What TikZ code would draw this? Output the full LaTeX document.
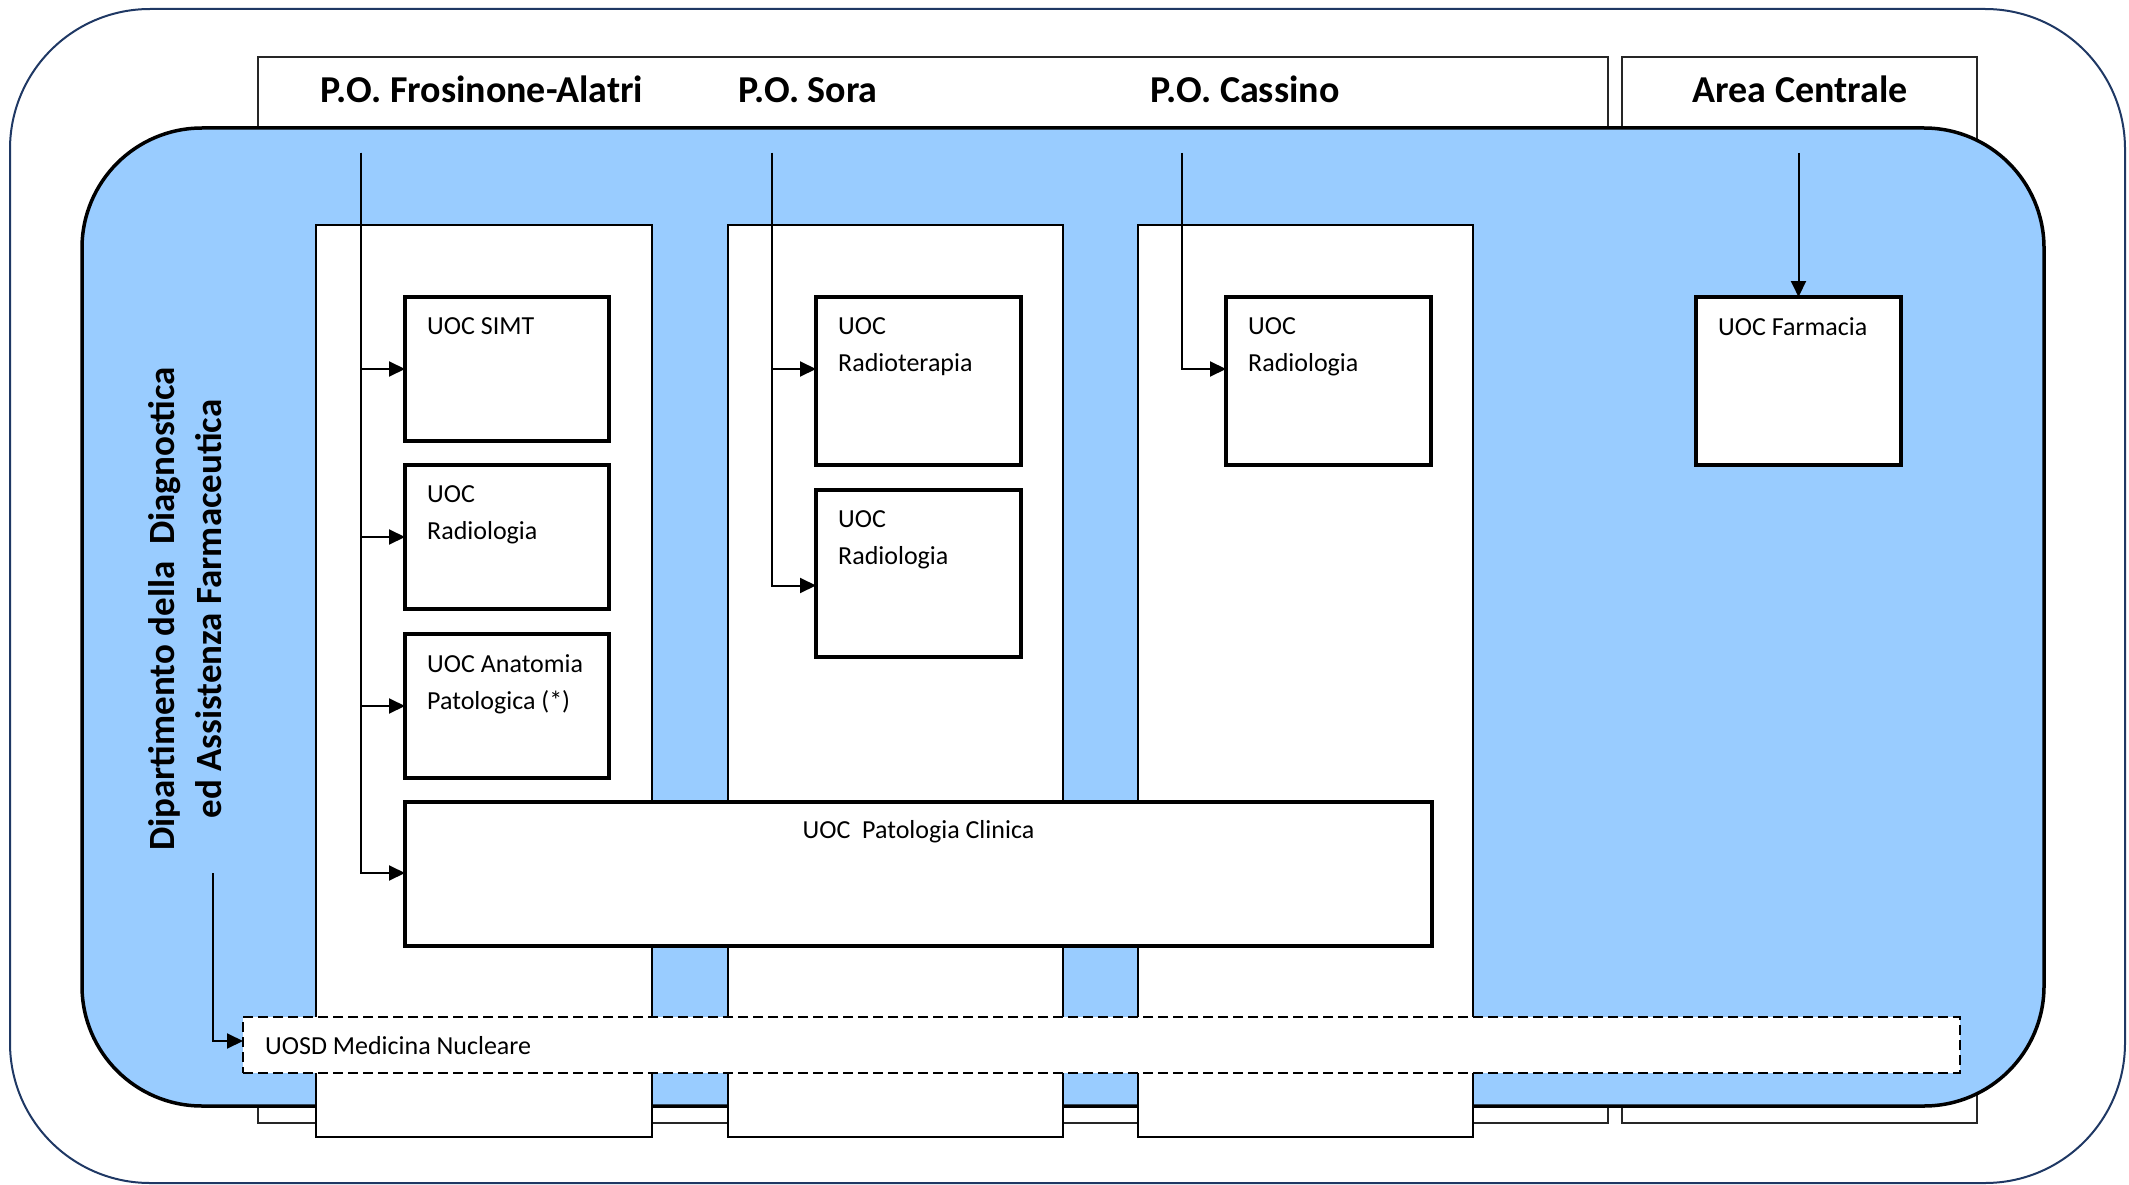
\documentclass[tikz,border=0pt]{standalone}
\usepackage{fontspec}
\setmainfont{Carlito}
\usetikzlibrary{arrows.meta,calc}
\definecolor{navy}{RGB}{31,56,100}
\definecolor{deptblue}{RGB}{153,204,255}
\begin{document}
\begin{tikzpicture}[x=1pt,y=-1pt,
  hdrbox/.style={draw=black!85,line width=1.5pt,fill=white,inner sep=0pt,outer sep=0pt,anchor=north west},
  colbox/.style={draw=black,line width=1.5pt,fill=white,inner sep=0pt,outer sep=0pt,anchor=north west},
  unitbox/.style={draw=black,line width=3.3pt,fill=white,inner sep=0pt,outer sep=0pt,anchor=north west},
  dashbox/.style={draw=black,line width=2.8pt,dash pattern=on 10pt off 5pt,fill=white,inner sep=0pt,outer sep=0pt,anchor=north west},
  hdrtxt/.style={font=\fontsize{38}{46}\selectfont\bfseries,anchor=base,inner sep=0pt},
  unittxt/.style={font=\fontsize{26}{37}\selectfont,align=left,anchor=north west,inner sep=0pt},
  conn/.style={line width=2pt,-{Triangle[length=16pt,width=15pt]}},
  trunk/.style={line width=2pt}]
\useasboundingbox (0,0) rectangle (2129,1185);
% outer frame
\draw[navy,line width=2pt,fill=white,rounded corners=140pt] (10,9) rectangle (2125,1183);
% header boxes
\node[hdrbox,minimum width=1350,minimum height=1066] (hdrA) at (258,57) {};
\node[hdrbox,minimum width=355,minimum height=1066] (hdrB) at (1622,57) {};
% department
\draw[black,line width=3.5pt,fill=deptblue,rounded corners=120pt] (82,128) rectangle (2044,1106);
% columns
\node[colbox,minimum width=336,minimum height=912] (col1) at (316,225) {};
\node[colbox,minimum width=335,minimum height=912] (col2) at (728,225) {};
\node[colbox,minimum width=335,minimum height=912] (col3) at (1138,225) {};
% header titles
\node[hdrtxt] (tFro) at (482,103) {P.O. Frosinone-Alatri};
\node[hdrtxt] (tSora) at (808,103) {P.O. Sora};
\node[hdrtxt] (tCas) at (1245,103) {P.O. Cassino};
\node[hdrtxt] (tArea) at (1800,103) {Area Centrale};
% unit boxes
\node[unitbox,minimum width=204,minimum height=144] (simt) at (405,297) {};
\node[unitbox,minimum width=204,minimum height=144] (rad1) at (405,465) {};
\node[unitbox,minimum width=204,minimum height=144] (anat) at (405,634) {};
\node[unitbox,minimum width=1027,minimum height=144] (pato) at (405,802) {};
\node[unitbox,minimum width=205,minimum height=168] (radt) at (816,297) {};
\node[unitbox,minimum width=205,minimum height=167] (rad2) at (816,490) {};
\node[unitbox,minimum width=205,minimum height=168] (rad3) at (1226,297) {};
\node[unitbox,minimum width=205,minimum height=168] (farm) at (1696,297) {};
% unit labels
\node[unittxt] (lsimt) at ($(simt.north west)+(22,20)$) {UOC SIMT};
\node[unittxt] (lrad1) at ($(rad1.north west)+(22,20)$) {UOC\\Radiologia};
\node[unittxt] (lanat) at ($(anat.north west)+(22,20)$) {UOC Anatomia\\Patologica (*)};
\node[font=\fontsize{26}{37}\selectfont,anchor=base,inner sep=0pt] (lpato) at (918.5,838) {UOC\ \ Patologia Clinica};
\node[unittxt] (lradt) at ($(radt.north west)+(22,20)$) {UOC\\Radioterapia};
\node[unittxt] (lrad2) at ($(rad2.north west)+(22,20)$) {UOC\\Radiologia};
\node[unittxt] (lrad3) at ($(rad3.north west)+(22,20)$) {UOC\\Radiologia};
\node[unittxt] (lfarm) at ($(farm.north west)+(22,20)$) {UOC Farmacia};
% connectors
\coordinate (t1) at (361,153);
\coordinate (t2) at (772,153);
\coordinate (t3) at (1182,153);
\coordinate (t4) at (1798.5,153);
\coordinate (t5) at (213,873);
\draw[conn] (t1) |- (simt.west);
\draw[conn] (t1) |- (rad1.west);
\draw[conn] (t1) |- (anat.west);
\draw[conn] (t1) |- (pato.west |- 0,873);
\draw[conn] (t2) |- ([yshift=12pt]radt.west);
\draw[conn] (t2) |- ([yshift=-12pt]rad2.west);
\draw[conn] (t3) |- ([yshift=12pt]rad3.west);
\draw[conn] (t4) -- (farm.north);
% nuclear medicine
\node[dashbox,minimum width=1717,minimum height=56] (uosd) at (243,1017) {};
\node[font=\fontsize{26}{37}\selectfont,anchor=base west,inner sep=0pt] (luosd) at (265,1054) {UOSD Medicina Nucleare};
\draw[conn] (t5) |- ([yshift=4pt]uosd.west);
% department title
\node[font=\fontsize{37}{47}\selectfont\bfseries,align=center,rotate=90,inner sep=0pt] (dept) at (185,609) {Dipartimento della\ \ Diagnostica\\ed Assistenza Farmaceutica};
\end{tikzpicture}
\end{document}
